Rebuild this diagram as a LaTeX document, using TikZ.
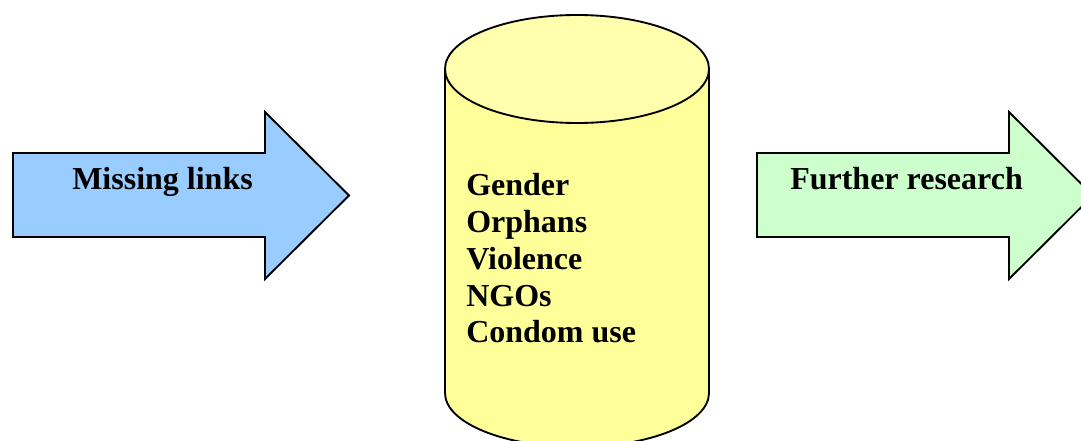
\documentclass[tikz,border=0pt]{standalone}
\usepackage{fontspec}
\setmainfont{Liberation Serif}
\usetikzlibrary{positioning}
\definecolor{linkblue}{HTML}{99CCFF}
\definecolor{resgreen}{HTML}{CCFFCC}
\definecolor{drumyellow}{HTML}{FFFF99}
\definecolor{drumtop}{HTML}{FFFFAD}

\begin{document}
\begin{tikzpicture}[x=0.75pt,y=-0.75pt,
  outline/.style={draw=black, line width=1.4pt, line join=miter},
  labeltext/.style={font=\fontsize{24}{27.6}\selectfont\bfseries, inner sep=0pt, anchor=base west}]
  \useasboundingbox (0,0) rectangle (1081,441);
  \clip (0,0) rectangle (1081,441);

  % left arrow
  \draw[outline, fill=linkblue] (13,153) -- (265,153) -- (265,112) -- (349,195.5)
    -- (265,279) -- (265,237) -- (13,237) -- cycle;
  \node[labeltext] (missing) at (72,190) {Missing links};

  % drum in the middle
  \draw[outline, fill=drumyellow] (445,69) -- (445,393)
    arc[start angle=180, end angle=0, x radius=132, y radius=54] -- (709,69);
  \draw[outline, fill=drumtop] (577,69) ellipse [x radius=132, y radius=54];
  \node[labeltext, align=left] (topics) at (466,343)
    {Gender\\Orphans\\Violence\\NGOs\\Condom use};

  % right arrow
  \draw[outline, fill=resgreen] (757,153) -- (1009,153) -- (1009,112) -- (1093,195.5)
    -- (1009,279) -- (1009,237) -- (757,237) -- cycle;
  \node[labeltext] (further) at (790,190) {Further research};
\end{tikzpicture}
\end{document}
